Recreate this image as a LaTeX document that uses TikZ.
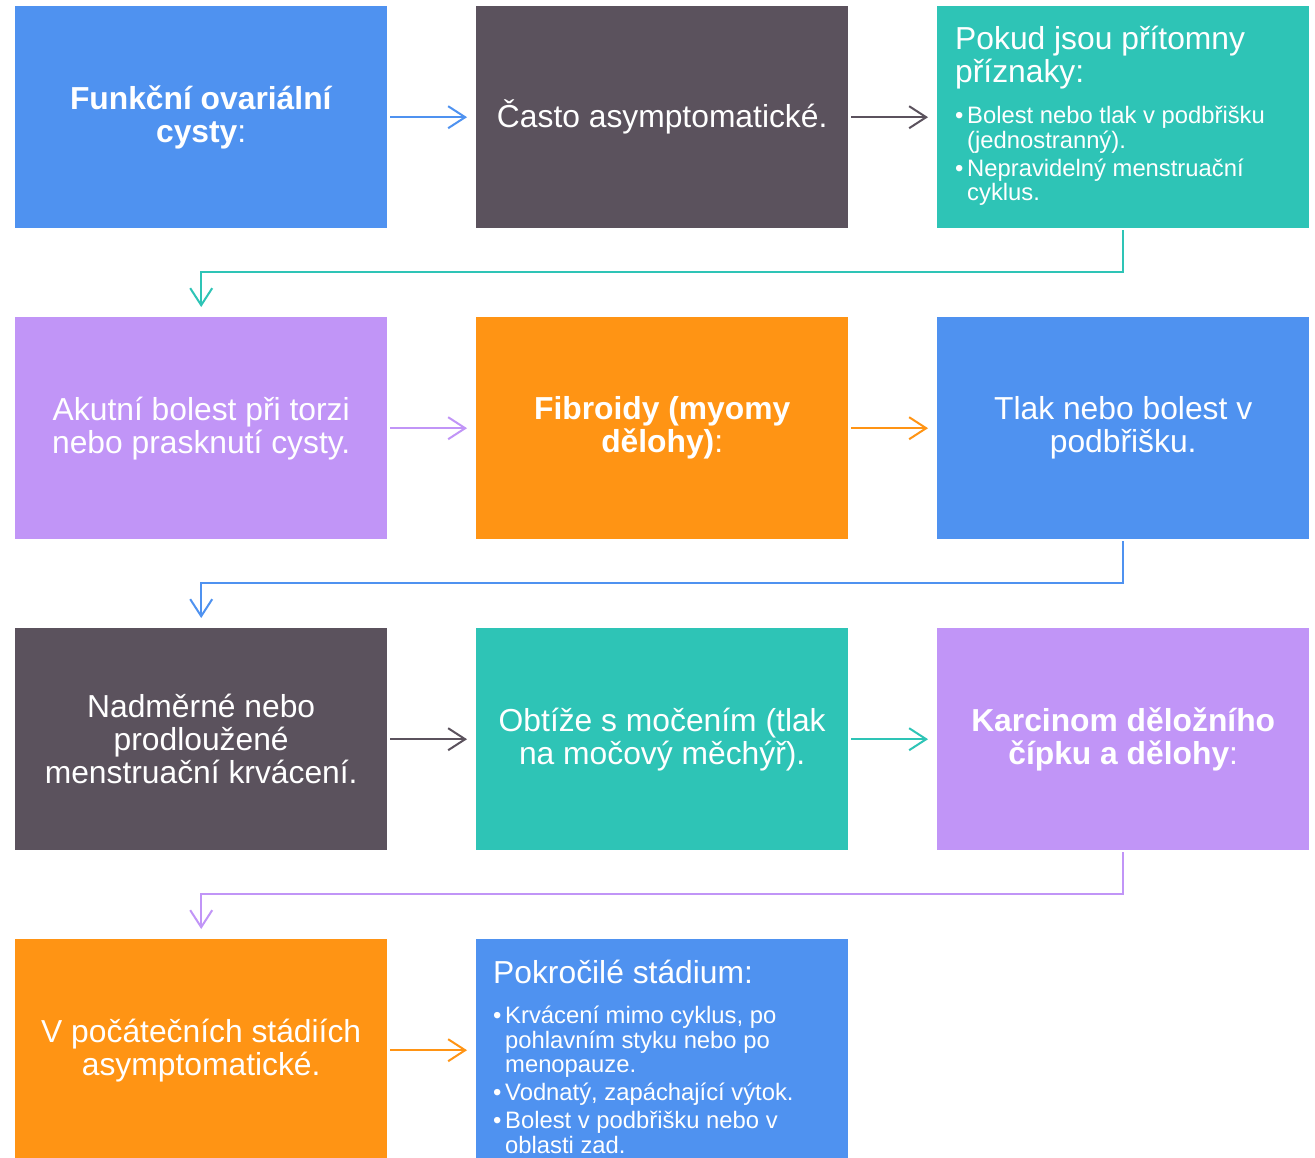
\documentclass[tikz,border=0pt]{standalone}
\usepackage{fontspec}
\setmainfont{Liberation Sans}
\usetikzlibrary{arrows.meta,calc}
\definecolor{cblue}{HTML}{4F92F0}
\definecolor{cdark}{HTML}{5B525D}
\definecolor{cteal}{HTML}{2EC4B6}
\definecolor{cpurple}{HTML}{C195F7}
\definecolor{corange}{HTML}{FF9414}
\tikzset{
  box/.style={fill=#1, draw=none, minimum width=372pt, minimum height=222pt,
    anchor=north west, inner sep=0pt, text=white, align=center,
    font=\fontsize{31.8}{33}\selectfont},
  head/.style={anchor=base west, inner sep=0pt, text=white, font=\fontsize{31.8}{33}\selectfont},
  small/.style={anchor=base west, inner sep=0pt, text=white, font=\fontsize{23.8}{25}\selectfont},
  conn/.style={draw=#1, line width=2pt, -{Straight Barb[length=17pt,width=22pt]}}
}
\begin{document}
\begin{tikzpicture}[x=1pt,y=-1pt]
\useasboundingbox (0,0) rectangle (1315,1157);
\clip (0,0) rectangle (1315,1157);
\fill[white] (0,0) rectangle (1315,1157);
% row 1
\node[box=cblue] (b1) at (15,6) {\textbf{Funkční ovariální}\\\textbf{cysty}:};
\node[box=cdark] (b2) at (476,6) {Často asymptomatické.};
\node[box=cteal] (b3) at (937,6) {};
% row 2
\node[box=cpurple] (b4) at (15,317) {Akutní bolest při torzi\\nebo prasknutí cysty.};
\node[box=corange] (b5) at (476,317) {\textbf{Fibroidy (myomy}\\\textbf{dělohy)}:};
\node[box=cblue] (b6) at (937,317) {Tlak nebo bolest v\\podbřišku.};
% row 3
\node[box=cdark] (b7) at (15,628) {Nadměrné nebo\\prodloužené\\menstruační krvácení.};
\node[box=cteal] (b8) at (476,628) {Obtíže s močením (tlak\\na močový měchýř).};
\node[box=cpurple] (b9) at (937,628) {\textbf{Karcinom děložního}\\\textbf{čípku a dělohy}:};
% row 4
\node[box=corange] (b10) at (15,939) {V počátečních stádiích\\asymptomatické.};
\node[box=cblue] (b11) at (476,939) {};
% texts of box 3
\node[head] (t3a) at (955,49) {Pokud jsou přítomny};
\node[head] (t3b) at (955,82) {příznaky:};
\node[small] (t3c) at (955,123) {•};
\node[small] (t3d) at (967,123) {Bolest nebo tlak v podbřišku};
\node[small] (t3e) at (967,148) {(jednostranný).};
\node[small] (t3f) at (955,176) {•};
\node[small] (t3g) at (967,176) {Nepravidelný menstruační};
\node[small] (t3h) at (967,200) {cyklus.};
% texts of box 11
\node[head] (t11a) at (493,983) {Pokročilé stádium:};
\node[small] (t11b) at (493,1023) {•};
\node[small] (t11c) at (505,1023) {Krvácení mimo cyklus, po};
\node[small] (t11d) at (505,1048) {pohlavním styku nebo po};
\node[small] (t11e) at (505,1072) {menopauze.};
\node[small] (t11f) at (493,1100) {•};
\node[small] (t11g) at (505,1100) {Vodnatý, zapáchající výtok.};
\node[small] (t11h) at (493,1128) {•};
\node[small] (t11i) at (505,1128) {Bolest v podbřišku nebo v};
\node[small] (t11j) at (505,1153) {oblasti zad.};
% connectors
\draw[conn=cblue] ($(b1.east)+(3,0)$) -- ($(b2.west)+(-9,0)$);
\draw[conn=cdark] ($(b2.east)+(3,0)$) -- ($(b3.west)+(-9,0)$);
\draw[conn=cteal] ($(b3.south)+(0,2)$) -- ($(b3.south)+(0,44)$) -| ($(b4.north)+(0,-10)$);
\draw[conn=cpurple] ($(b4.east)+(3,0)$) -- ($(b5.west)+(-9,0)$);
\draw[conn=corange] ($(b5.east)+(3,0)$) -- ($(b6.west)+(-9,0)$);
\draw[conn=cblue] ($(b6.south)+(0,2)$) -- ($(b6.south)+(0,44)$) -| ($(b7.north)+(0,-10)$);
\draw[conn=cdark] ($(b7.east)+(3,0)$) -- ($(b8.west)+(-9,0)$);
\draw[conn=cteal] ($(b8.east)+(3,0)$) -- ($(b9.west)+(-9,0)$);
\draw[conn=cpurple] ($(b9.south)+(0,2)$) -- ($(b9.south)+(0,44)$) -| ($(b10.north)+(0,-10)$);
\draw[conn=corange] ($(b10.east)+(3,0)$) -- ($(b11.west)+(-9,0)$);
\end{tikzpicture}
\end{document}
